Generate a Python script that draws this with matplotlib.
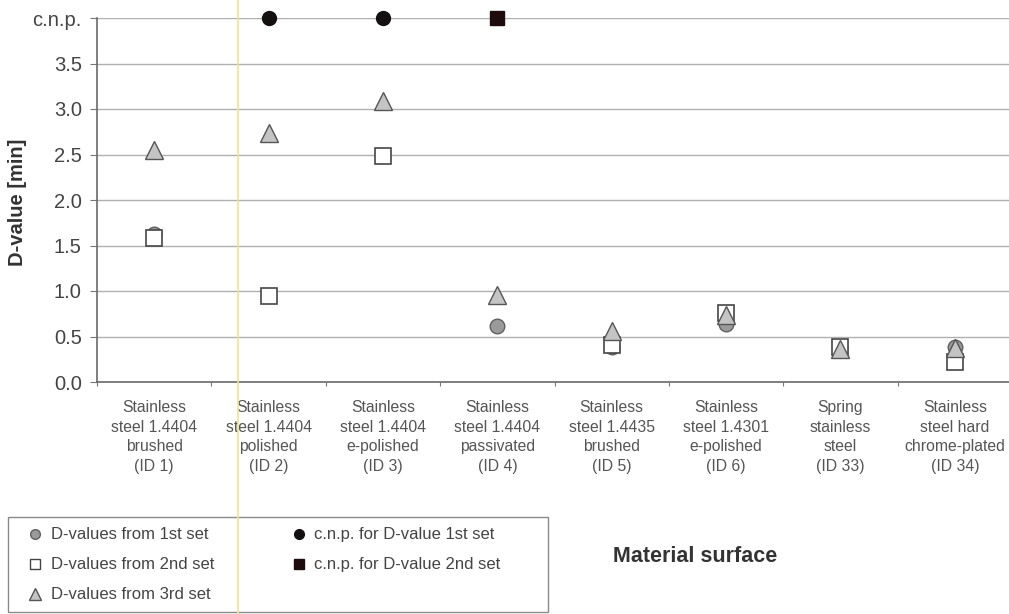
import numpy as np
import matplotlib
matplotlib.use("Agg")
from matplotlib import pyplot as plt
from matplotlib.lines import Line2D
from matplotlib.patches import Rectangle

plt.rcParams['font.family'] = ['Liberation Sans', 'DejaVu Sans']

categories = [
    "Stainless\nsteel 1.4404\nbrushed\n(ID 1)",
    "Stainless\nsteel 1.4404\npolished\n(ID 2)",
    "Stainless\nsteel 1.4404\ne-polished\n(ID 3)",
    "Stainless\nsteel 1.4404\npassivated\n(ID 4)",
    "Stainless\nsteel 1.4435\nbrushed\n(ID 5)",
    "Stainless\nsteel 1.4301\ne-polished\n(ID 6)",
    "Spring\nstainless\nsteel\n(ID 33)",
    "Stainless\nsteel hard\nchrome-plated\n(ID 34)",
]

nan = np.nan
CNP = 4.0  # "could not be determined" level, drawn at the top of the scale

set1 = [1.63, nan, nan, 0.62, 0.39, 0.64, 0.37, 0.38]
set2 = [1.58, 0.95, 2.48, nan, 0.41, 0.76, 0.39, 0.22]
set3 = [2.55, 2.74, 3.09, 0.96, 0.56, 0.74, 0.36, 0.37]
cnp1 = [nan, CNP, CNP, nan, nan, nan, nan, nan]
cnp2 = [nan, nan, nan, CNP, nan, nan, nan, nan]

yticks = [0.0, 0.5, 1.0, 1.5, 2.0, 2.5, 3.0, 3.5, 4.0]
yticklabels = ["0.0", "0.5", "1.0", "1.5", "2.0", "2.5", "3.0", "3.5", "c.n.p."]

legend_labels = ["D-values from 1st set", "D-values from 2nd set",
                 "D-values from 3rd set", "c.n.p. for D-value 1st set",
                 "c.n.p. for D-value 2nd set"]

fig = plt.figure(figsize=(10.09, 6.14), dpi=100)
ax = fig.add_axes([97 / 1009, 232 / 614, 915 / 1009, 364 / 614])

x = np.arange(len(categories))

ax.plot(x, set1, 'o', ms=10.5, mfc='#9a9a9a', mec='#606060', mew=1.0, ls='none', clip_on=False, zorder=3)
ax.plot(x, set2, 's', ms=11, mfc='white', mec='#454545', mew=1.2, ls='none', clip_on=False, zorder=4)
ax.plot(x, set3, '^', ms=13, mfc='#c4c4c4', mec='#555555', mew=1.0, ls='none', clip_on=False, zorder=5)
ax.plot(x, cnp1, 'o', ms=10, mfc='#141010', mec='#141010', ls='none', clip_on=False, zorder=5)
ax.plot(x, cnp2, 's', ms=10, mfc='#1e0c0c', mec='#1e0c0c', ls='none', clip_on=False, zorder=5)

ax.set_xlim(-0.5, len(categories) - 0.5)
ax.set_ylim(0, 4.0)

ax.set_yticks(yticks)
ax.set_yticklabels(yticklabels, fontsize=14.5, color='#444444')
ax.tick_params(axis='y', length=5, color='#777777', pad=6)

# boundary ticks between categories, labels centered on the categories
ax.set_xticks(np.arange(-0.5, len(categories), 1.0))
ax.set_xticklabels([])
ax.set_xticks(x, minor=True)
ax.set_xticklabels(categories, minor=True, fontsize=11.3, color='#555555', linespacing=1.38)
ax.tick_params(axis='x', which='major', length=3, color='#777777')
ax.tick_params(axis='x', which='minor', length=0, pad=13)

ax.grid(axis='y', color='#b0b0b0', lw=1.0)
ax.set_axisbelow(True)
for side in ('top', 'right'):
    ax.spines[side].set_visible(False)
for side in ('left', 'bottom'):
    ax.spines[side].set_color('#6a6a6a')
    ax.spines[side].set_linewidth(1.2)

fig.text(18 / 1009, 1 - 202 / 614, "D-value [min]", rotation=90, fontsize=14.5,
         fontweight='bold', color='#333333', ha='center', va='center')
fig.text(695 / 1009, 1 - 557 / 614, "Material surface", fontsize=15.5,
         fontweight='bold', color='#333333', ha='center', va='center')

handles = [
    Line2D([], [], marker='o', ls='none', ms=7, mfc='#9a9a9a', mec='#606060'),
    Line2D([], [], marker='s', ls='none', ms=7, mfc='white', mec='#454545'),
    Line2D([], [], marker='^', ls='none', ms=8, mfc='#c4c4c4', mec='#555555'),
    Line2D([], [], marker='o', ls='none', ms=7, mfc='#141010', mec='#141010'),
    Line2D([], [], marker='s', ls='none', ms=7, mfc='#1e0c0c', mec='#1e0c0c'),
]
fig.patches.append(Rectangle((8 / 1009, 2 / 614), 540 / 1009, 95 / 614,
                             transform=fig.transFigure, fill=False,
                             edgecolor='#8a8a8a', lw=1.0))
leg = fig.legend(handles, legend_labels, ncol=2, loc='lower left',
                 bbox_to_anchor=(21 / 1009, 5 / 614), frameon=False,
                 fontsize=12, handlelength=0.9, handletextpad=0.5,
                 labelspacing=0.9, columnspacing=4.6, borderaxespad=0)
for t in leg.get_texts():
    t.set_color('#444444')

# pale yellow vertical streak across the sheet
fig.add_artist(Line2D([238 / 1009, 238 / 1009], [0, 1], transform=fig.transFigure,
                      color='#ece68a', lw=1.2, zorder=10))

fig.savefig("out.png", dpi=100)
